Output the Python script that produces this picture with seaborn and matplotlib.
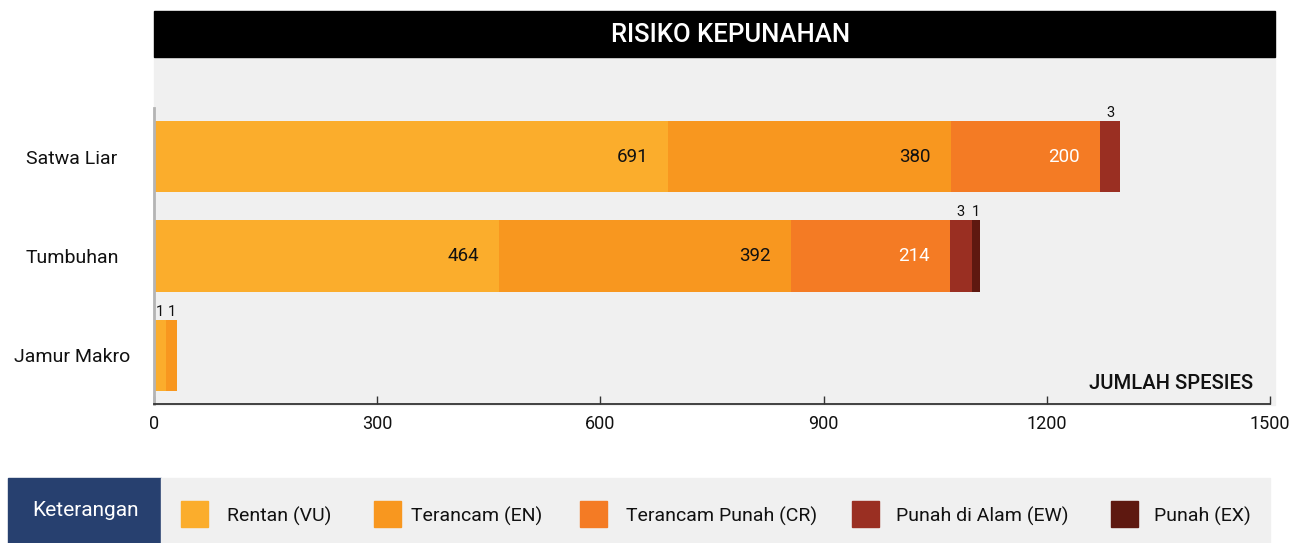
import matplotlib
matplotlib.use("Agg")
import matplotlib.pyplot as plt
import matplotlib.patches as mpatches
import matplotlib.transforms as mtransforms
import numpy as np
import pandas as pd
import seaborn as sns

# ── Data ──────────────────────────────────────────────────────────────────
groups = ["Satwa Liar", "Tumbuhan", "Jamur Makro"]
categories = ["Rentan (VU)", "Terancam (EN)", "Terancam Punah (CR)",
              "Punah di Alam (EW)", "Punah (EX)"]
colors = ["#FBAD2C", "#F8971F", "#F47B24", "#9A2F22", "#5E1810"]

vu = [691, 464, 1]
en = [380, 392, 1]
cr = [200, 214, 0]
ew = [3, 3, 0]
ex = [0, 1, 0]

# drawn lengths: tiny counts are drawn wider than scale so they stay visible
vu_drawn = [691, 464, 16]
en_drawn = [380, 392, 15]
cr_drawn = [200, 214, 0]
ew_drawn = [28, 29, 0]
ex_drawn = [0, 11, 0]

counts = [vu, en, cr, ew, ex]
drawn = [vu_drawn, en_drawn, cr_drawn, ew_drawn, ex_drawn]

# cumulative ends for stacking
df = pd.DataFrame({"group": groups})
cum = np.zeros(len(groups))
starts = []
for cat, d in zip(categories, drawn):
    starts.append(cum.copy())
    cum = cum + np.array(d)
    df[cat] = cum

BG = "#F0F0F0"
FONT = ["Roboto", "DejaVu Sans"]
plt.rcParams["font.family"] = FONT

fig = plt.figure(figsize=(12.9, 5.43), dpi=100)
W, H = 1290, 543

# grey panel + black title bar
fig.patches.append(mpatches.Rectangle((154 / W, 1 - 405 / H), 1121 / W, 348 / H,
                                      transform=fig.transFigure, color=BG, zorder=-1))
fig.patches.append(mpatches.Rectangle((154 / W, 1 - 57 / H), 1121 / W, 46 / H,
                                      transform=fig.transFigure, color="black", zorder=-1))
fig.text(731 / W, 1 - 35 / H, "RISIKO KEPUNAHAN", color="white", fontsize=18.5,
         fontweight="medium", ha="center", va="center")

ax = fig.add_axes([154 / W, 1 - 404 / H, 1116 / W, 296 / H])
ax.set_facecolor("none")

# draw longest cumulative first so shorter ones overlay it
for cat, col in reversed(list(zip(categories, colors))):
    sns.barplot(data=df, y="group", x=cat, color=col, width=0.72,
                saturation=1, orient="h", linewidth=0, ax=ax)

ax.set_xlim(0, 1500)
ax.set_ylim(2.49, -0.49)
ax.set_xticks([0, 300, 600, 900, 1200, 1500])
ax.set_xlabel("")
ax.set_ylabel("")

# value labels
for k in range(len(categories)):
    for i in range(len(groups)):
        n = counts[k][i]
        if n == 0:
            continue
        s, w = starts[k][i], drawn[k][i]
        if n >= 100:
            ax.annotate(str(n), (s + w, i), xytext=(-20, 0), textcoords="offset pixels",
                        ha="right", va="center", fontsize=13.5,
                        color="white" if k == 2 else "#111111")
        else:
            ax.annotate(str(n), (s + w / 2, i - 0.36), xytext=(0, 1), textcoords="offset pixels",
                        ha="center", va="bottom", fontsize=10.5, color="#111111")

trans = mtransforms.blended_transform_factory(ax.transData, ax.transAxes)
ax.text(1477, 0.07, "JUMLAH SPESIES", transform=trans, ha="right", va="center",
        fontsize=14.5, fontweight="medium", color="#111111")

for side in ["top", "right"]:
    ax.spines[side].set_visible(False)
ax.spines["left"].set_color("#B4B4B4")
ax.spines["left"].set_linewidth(2)
ax.spines["bottom"].set_color("#333333")
ax.spines["bottom"].set_linewidth(1.3)
ax.tick_params(axis="x", direction="in", length=6, width=1, color="#333333",
               labelsize=13, pad=8, labelcolor="#111111")
ax.tick_params(axis="y", length=0, pad=59, labelsize=14, labelcolor="#111111")
for lab in ax.get_yticklabels():
    lab.set_horizontalalignment("center")

# legend strip
fig.patches.append(mpatches.Rectangle((8 / W, 0), 153 / W, 65 / H,
                                      transform=fig.transFigure, color="#27406F", zorder=-1))
fig.patches.append(mpatches.Rectangle((161 / W, 0), 1109 / W, 65 / H,
                                      transform=fig.transFigure, color=BG, zorder=-1))
fig.text(85 / W, 1 - 511 / H, "Keterangan", color="white", fontsize=15,
         ha="center", va="center")

# legend items placed by hand (spacing in the original is uneven)
sq_x = [181, 374, 580, 852, 1111]
txt_x = [227, 411, 626, 896, 1154]
for cat, col, sx, tx in zip(categories, colors, sq_x, txt_x):
    fig.patches.append(mpatches.Rectangle((sx / W, 1 - 527 / H), 27 / W, 26 / H,
                                          transform=fig.transFigure, color=col))
    fig.text(tx / W, 1 - 516 / H, cat, fontsize=14, color="#111111",
             ha="left", va="center")

fig.savefig("out.png", dpi=100)
